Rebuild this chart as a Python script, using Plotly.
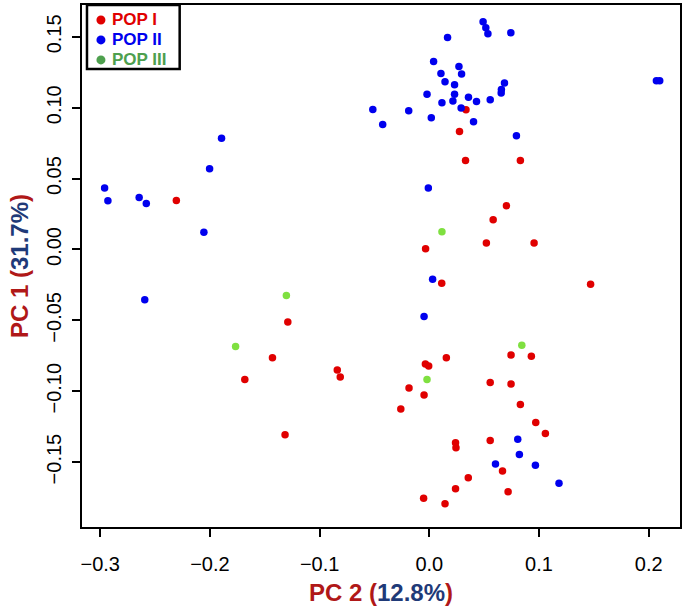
import plotly.graph_objects as go

# ---- data (PC2 = x, PC1 = y) ----
pop1_x = [-0.2306, 0.0334, 0.0275, 0.0330, 0.0830, 0.0703, 0.0582, -0.0034, 0.0520, 0.0955,
          0.0113, 0.1470, -0.1290, -0.1430, -0.1682, -0.1315, -0.0839, -0.0812, 0.0745, 0.0930,
          -0.0036, -0.0006, 0.0155, -0.0185, -0.0048, -0.0260, 0.0555, 0.0745, 0.0830, 0.0970,
          0.1058, 0.0239, 0.0243, 0.0555, 0.0667, 0.0355, 0.0239, 0.0718, -0.0052, 0.0143]
pop1_y = [0.0345, 0.0986, 0.0833, 0.0627, 0.0627, 0.0308, 0.0209, 0.0005, 0.0045, 0.0045,
          -0.0239, -0.0246, -0.0512, -0.0763, -0.0918, -0.1308, -0.0850, -0.0899, -0.0744, -0.0754,
          -0.0808, -0.0822, -0.0763, -0.0977, -0.1026, -0.1125, -0.0939, -0.0949, -0.1094, -0.1220,
          -0.1298, -0.1364, -0.1399, -0.1347, -0.1563, -0.1610, -0.1688, -0.1709, -0.1756, -0.1794]

pop2_x = [0.0490, 0.0515, 0.0534, 0.0743, 0.0166, 0.0039, 0.0270, 0.0106, 0.0294, 0.0143,
          0.0230, 0.0685, 0.0657, 0.0655, -0.0021, 0.0230, 0.0357, 0.0430, 0.0555, 0.0115,
          0.0215, 0.0290, -0.0515, -0.0188, 0.0018, -0.0425, 0.0403, 0.0794, 0.2070, 0.2100,
          -0.1894, -0.2003, -0.2960, -0.2930, -0.2645, -0.2580, -0.2055, -0.2594,
          -0.0009, 0.0030, -0.0048,
          0.0806, 0.0821, 0.0603, 0.0967, 0.1182]
pop2_y = [0.1606, 0.1565, 0.1523, 0.1530, 0.1495, 0.1326, 0.1291, 0.1242, 0.1239, 0.1183,
          0.1162, 0.1174, 0.1129, 0.1104, 0.1096, 0.1096, 0.1075, 0.1044, 0.1056, 0.1035,
          0.1047, 0.0998, 0.0988, 0.0979, 0.0930, 0.0882, 0.0901, 0.0803, 0.1190, 0.1190,
          0.0784, 0.0570, 0.0434, 0.0343, 0.0366, 0.0324, 0.0122, -0.0354,
          0.0434, -0.0210, -0.0472,
          -0.1338, -0.1446, -0.1514, -0.1523, -0.1650]

pop3_x = [-0.1303, -0.1766, 0.0115, 0.0843, -0.0021]
pop3_y = [-0.0324, -0.0685, 0.0125, -0.0676, -0.0918]

names = ["POP I", "POP II", "POP III"]
point_colors = ["#E00000", "#0000EE", "#7FE040"]
legend_colors = ["#E00000", "#0000EE", "#4EA04E"]

x_ticks = [-0.3, -0.2, -0.1, 0.0, 0.1, 0.2]
y_ticks = [-0.15, -0.10, -0.05, 0.00, 0.05, 0.10, 0.15]

W, H = 685, 606
ML, MR, MT, MB = 82, 3, 4, 79
PW, PH = W - ML - MR, H - MT - MB

def px_x(p):  # pixel -> paper (x)
    return (p - ML) / PW

def px_y(p):  # pixel -> paper (y)
    return (H - MB - p) / PH

fig = go.Figure()
for n, xs, ys, c in zip(names, [pop1_x, pop2_x, pop3_x], [pop1_y, pop2_y, pop3_y], point_colors):
    fig.add_trace(go.Scatter(x=xs, y=ys, mode="markers", name=n, showlegend=False,
                             marker=dict(size=7.5, color=c, line=dict(width=0))))

# ---- custom legend (R style) ----
shapes = [dict(type="rect", xref="paper", yref="paper",
               x0=px_x(87), x1=px_x(180), y0=px_y(68), y1=px_y(4),
               line=dict(color="black", width=2.5), fillcolor="white", layer="above")]
annotations = []
for i, (n, c) in enumerate(zip(names, legend_colors)):
    yc = px_y(19 + 20 * i)
    shapes.append(dict(type="circle", xref="paper", yref="paper",
                       xsizemode="pixel", ysizemode="pixel",
                       xanchor=px_x(101), yanchor=yc, x0=-4.5, x1=4.5, y0=-4.5, y1=4.5,
                       fillcolor=c, line=dict(width=0), layer="above"))
    annotations.append(dict(xref="paper", yref="paper", x=px_x(110), y=yc,
                            xanchor="left", yanchor="middle", showarrow=False,
                            text=f"<b>{n}</b>",
                            font=dict(size=17, color=c,
                                      family="Liberation Sans, Arial, sans-serif")))

red_t = "#B01818"
blue_t = "#1F3A78"

def title(a, b):
    return (f"<b><span style='color:{red_t}'>{a} (</span>"
            f"<span style='color:{blue_t}'>{b}</span>"
            f"<span style='color:{red_t}'>)</span></b>")

axis_common = dict(showgrid=False, zeroline=False, showline=True, linecolor="black",
                   linewidth=1.5, mirror=True, ticks="outside", ticklen=8, tickwidth=1.5,
                   tickcolor="black",
                   tickfont=dict(size=20, color="black",
                                 family="Liberation Sans, Arial, sans-serif"))

fig.update_layout(
    width=W, height=H,
    margin=dict(l=ML, r=MR, t=MT, b=MB),
    paper_bgcolor="white", plot_bgcolor="white",
    font=dict(family="Liberation Sans, Arial, sans-serif"),
    xaxis=dict(range=[-0.3166, 0.2285], tickvals=x_ticks, tickformat=".1f",
               ticklabelstandoff=10,
               title=dict(text=title("PC 2", "12.8%"), font=dict(size=24), standoff=11),
               **axis_common),
    yaxis=dict(range=[-0.1958, 0.1725], tickvals=y_ticks, tickformat=".2f", tickangle=-90,
               ticklabelstandoff=3,
               title=dict(text=title("PC 1", "31.7%"), font=dict(size=24), standoff=8),
               **axis_common),
    shapes=shapes,
    annotations=annotations,
    showlegend=False,
)

fig.write_html("out.html", config={"displayModeBar": False},
               post_script="document.body.style.margin='0px';")
